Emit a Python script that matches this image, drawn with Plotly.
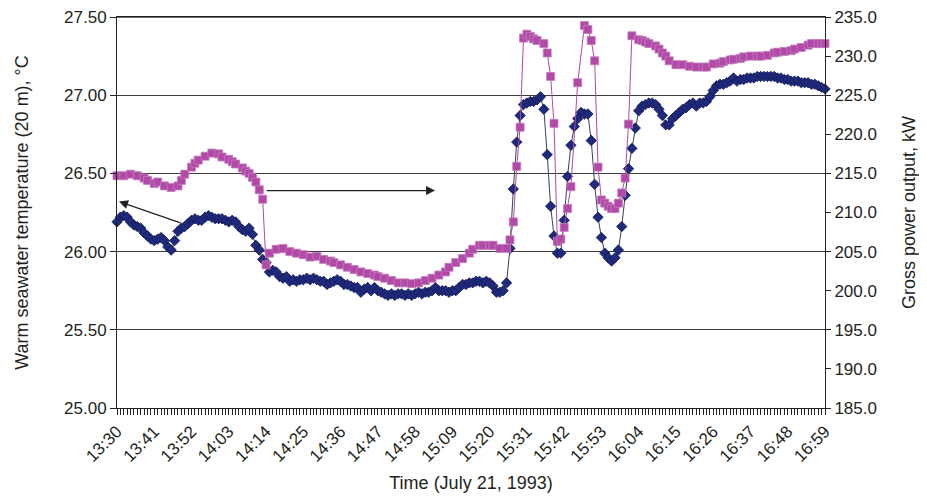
import plotly.graph_objects as go

# ---- data ----
TICK_MINUTES = [0, 11, 22, 33, 44, 55, 66, 77, 88, 99, 110, 121, 132, 143, 154, 165, 176, 187, 198, 209]
TICK_LABELS = ["13:30", "13:41", "13:52", "14:03", "14:14", "14:25", "14:36", "14:47", "14:58", "15:09",
               "15:20", "15:31", "15:42", "15:53", "16:04", "16:15", "16:26", "16:37", "16:48", "16:59"]

TEMP_MINUTES = list(range(210))  # minutes after 13:30
TEMP = [
    26.19, 26.22, 26.23, 26.22, 26.19, 26.17, 26.16, 26.15, 26.12, 26.10,
    26.08, 26.07, 26.08, 26.09, 26.07, 26.03, 26.01, 26.07, 26.13, 26.15,
    26.16, 26.18, 26.20, 26.21, 26.20, 26.20, 26.22, 26.23, 26.22, 26.21,
    26.21, 26.21, 26.20, 26.19, 26.20, 26.19, 26.16, 26.14, 26.13, 26.15,
    26.11, 26.04, 26.01, 25.95, 25.93, 25.87, 25.88, 25.87, 25.84, 25.83,
    25.84, 25.81, 25.82, 25.81, 25.82, 25.82, 25.83, 25.82, 25.83, 25.82,
    25.81, 25.81, 25.79, 25.80, 25.81, 25.82, 25.81, 25.79, 25.79, 25.78,
    25.77, 25.77, 25.74, 25.76, 25.77, 25.75, 25.77, 25.75, 25.74, 25.73,
    25.72, 25.73, 25.72, 25.73, 25.73, 25.72, 25.73, 25.72, 25.73, 25.74,
    25.73, 25.74, 25.74, 25.75, 25.77, 25.75, 25.75, 25.75, 25.74, 25.75,
    25.75, 25.77, 25.79, 25.79, 25.80, 25.80, 25.81, 25.81, 25.80, 25.81,
    25.80, 25.78, 25.74, 25.74, 25.75, 25.80, 26.02, 26.40, 26.70, 26.87,
    26.94, 26.95, 26.96, 26.96, 26.97, 26.99, 26.91, 26.62, 26.29, 26.10,
    25.99, 25.99, 26.20, 26.48, 26.68, 26.80, 26.85, 26.89, 26.88, 26.88,
    26.71, 26.43, 26.22, 26.09, 25.99, 25.96, 25.94, 25.96, 26.01, 26.16,
    26.36, 26.53, 26.66, 26.79, 26.90, 26.93, 26.94, 26.95, 26.95, 26.94,
    26.91, 26.87, 26.81, 26.81, 26.85, 26.87, 26.89, 26.91, 26.92, 26.94,
    26.95, 26.93, 26.95, 26.95, 26.96, 26.99, 27.03, 27.06, 27.07, 27.07,
    27.08, 27.09, 27.11, 27.09, 27.10, 27.10, 27.11, 27.11, 27.11, 27.12,
    27.12, 27.12, 27.12, 27.12, 27.12, 27.11, 27.11, 27.10, 27.10, 27.09,
    27.09, 27.09, 27.08, 27.08, 27.08, 27.07, 27.07, 27.06, 27.05, 27.04,
]

POWER_MINUTES = [
    0, 2, 4, 6, 8, 9, 11, 12, 14, 16, 18, 19, 20, 22, 23, 24, 26, 28, 30, 31,
    33, 34, 35, 37, 38, 39, 40, 41, 42, 43, 44, 45, 47, 49, 51, 53, 55, 57, 59, 61,
    63, 64, 66, 68, 70, 72, 74, 76, 77, 79, 81, 83, 85, 87, 89, 91, 93, 95, 97, 98,
    100, 102, 104, 105, 107, 108, 110, 111, 113, 115, 116, 117, 118, 119, 120, 121, 122, 123, 124, 126,
    127, 128, 129, 130, 131, 132, 133, 134, 136, 138, 139, 140, 141, 142, 143, 144, 145, 146, 147, 148,
    149, 150, 151, 152, 154, 155, 156, 157, 159, 160, 161, 162, 163, 165, 167, 169, 171, 173, 174, 176,
    178, 179, 181, 182, 184, 185, 187, 189, 190, 192, 194, 195, 197, 199, 200, 202, 204, 205, 207, 208,
    209,
]
POWER = [
    214.7, 214.7, 214.9, 214.7, 214.4, 214.1, 213.7, 213.9, 213.4, 213.2, 213.4, 214.1, 214.9, 215.8, 216.3, 216.7, 217.2, 217.6, 217.5, 217.1,
    216.8, 216.5, 216.2, 215.7, 215.3, 215.0, 214.5, 213.9, 212.9, 211.7, 203.3, 204.8, 205.3, 205.4, 205.0, 204.8, 204.6, 204.3, 204.4, 204.0,
    203.8, 203.6, 203.3, 203.0, 202.7, 202.4, 202.2, 202.0, 201.8, 201.6, 201.3, 201.0, 201.0, 200.9, 201.0, 201.3, 201.6, 202.0, 202.4, 203.0,
    203.6, 204.1, 204.8, 205.3, 205.8, 205.8, 205.8, 205.8, 205.4, 205.4, 206.5, 208.8, 215.9, 220.9, 232.3, 232.8, 232.5, 232.2, 232.0, 231.6,
    230.4, 227.4, 221.4, 206.3, 206.6, 208.1, 210.5, 213.3, 226.6, 233.9, 233.4, 232.0, 229.4, 215.8, 211.6, 211.2, 210.8, 210.5, 210.5, 211.2,
    212.5, 214.4, 221.3, 232.6, 232.1, 232.0, 231.8, 231.6, 231.3, 230.9, 230.4, 230.0, 229.4, 228.9, 228.9, 228.7, 228.6, 228.6, 228.6, 229.0,
    229.1, 229.3, 229.5, 229.6, 229.7, 229.9, 230.0, 230.0, 230.0, 230.1, 230.4, 230.5, 230.6, 230.7, 230.9, 231.1, 231.4, 231.6, 231.6, 231.6,
    231.6,
]

FONT = "Arial, 'Liberation Sans', sans-serif"
TXT = "#231F20"

fig = go.Figure()

fig.add_trace(go.Scatter(
    x=TEMP_MINUTES, y=TEMP, mode="lines+markers", yaxis="y",
    line=dict(color="#3A3F5C", width=1),
    marker=dict(symbol="diamond", size=8, color="#1F2A7C", line=dict(color="#141B55", width=0.8)),
    cliponaxis=False, name="Warm seawater temperature",
))
fig.add_trace(go.Scatter(
    x=POWER_MINUTES, y=POWER, mode="lines+markers", yaxis="y2",
    line=dict(color="#B04AA6", width=1),
    marker=dict(symbol="square", size=8, color="#B04AA6", line=dict(color="#C57BBE", width=0.8)),
    cliponaxis=False, name="Gross power output",
))

fig.update_layout(
    width=911, height=485,
    margin=dict(l=109, r=94, t=9, b=85, autoexpand=False),
    paper_bgcolor="white", plot_bgcolor="white",
    showlegend=False,
    font=dict(family=FONT, color=TXT, size=17),
    xaxis=dict(
        range=[0, 209], showgrid=False, zeroline=False,
        showline=True, linecolor="#222", linewidth=1, mirror=True,
        tickmode="array", tickvals=TICK_MINUTES, ticktext=TICK_LABELS,
        ticks="outside", ticklen=6, tickcolor="#222", tickangle=-45,
        tickfont=dict(size=17, family=FONT, color=TXT),
        minor=dict(tickmode="linear", tick0=0, dtick=1, ticks="outside", ticklen=6, tickcolor="#222", showgrid=False),
        title=dict(text="Time (July 21, 1993)", font=dict(size=18, family=FONT, color=TXT), standoff=30),
        automargin=True, ticklabeloverflow="allow",
    ),
    yaxis=dict(
        range=[25, 27.5], tickmode="array", tickvals=[25, 25.5, 26, 26.5, 27, 27.5], tickformat=".2f",
        showgrid=True, gridcolor="#3C3C3C", gridwidth=1, zeroline=False,
        showline=True, linecolor="#222", linewidth=1,
        ticks="outside", ticklen=6, tickcolor="#222",
        tickfont=dict(size=17, family=FONT, color=TXT),
        title=dict(text="Warm seawater temperature (20 m), °C", font=dict(size=18, family=FONT, color=TXT), standoff=30),
        automargin=False, ticklabeloverflow="allow",
    ),
    yaxis2=dict(
        range=[185, 235], tickmode="array", tickvals=[185, 190, 195, 200, 205, 210, 215, 220, 225, 230, 235],
        tickformat=".1f",
        overlaying="y", side="right", showgrid=False, zeroline=False,
        showline=True, linecolor="#222", linewidth=1,
        ticks="outside", ticklen=5, tickcolor="#222",
        tickfont=dict(size=17, family=FONT, color=TXT),
        title=dict(text="Gross power output, kW", font=dict(size=18, family=FONT, color=TXT), standoff=44),
        automargin=False, ticklabeloverflow="allow",
    ),
    shapes=[
        dict(type="line", xref="paper", yref="y", x0=0, x1=1, y0=27.5, y1=27.5,
             line=dict(color="#3C3C3C", width=1.5), layer="above"),
    ],
    annotations=[
        dict(x=0.6, y=26.32, ax=19.2, ay=26.18, xref="x", yref="y", axref="x", ayref="y",
             text="", showarrow=True, arrowhead=2, arrowsize=1.5, arrowwidth=1.2, arrowcolor="#222"),
        dict(x=93.9, y=26.39, ax=43.7, ay=26.39, xref="x", yref="y", axref="x", ayref="y",
             text="", showarrow=True, arrowhead=2, arrowsize=1.5, arrowwidth=1.2, arrowcolor="#222"),
    ],
)

fig.write_html("out.html", config={"displayModeBar": False})
